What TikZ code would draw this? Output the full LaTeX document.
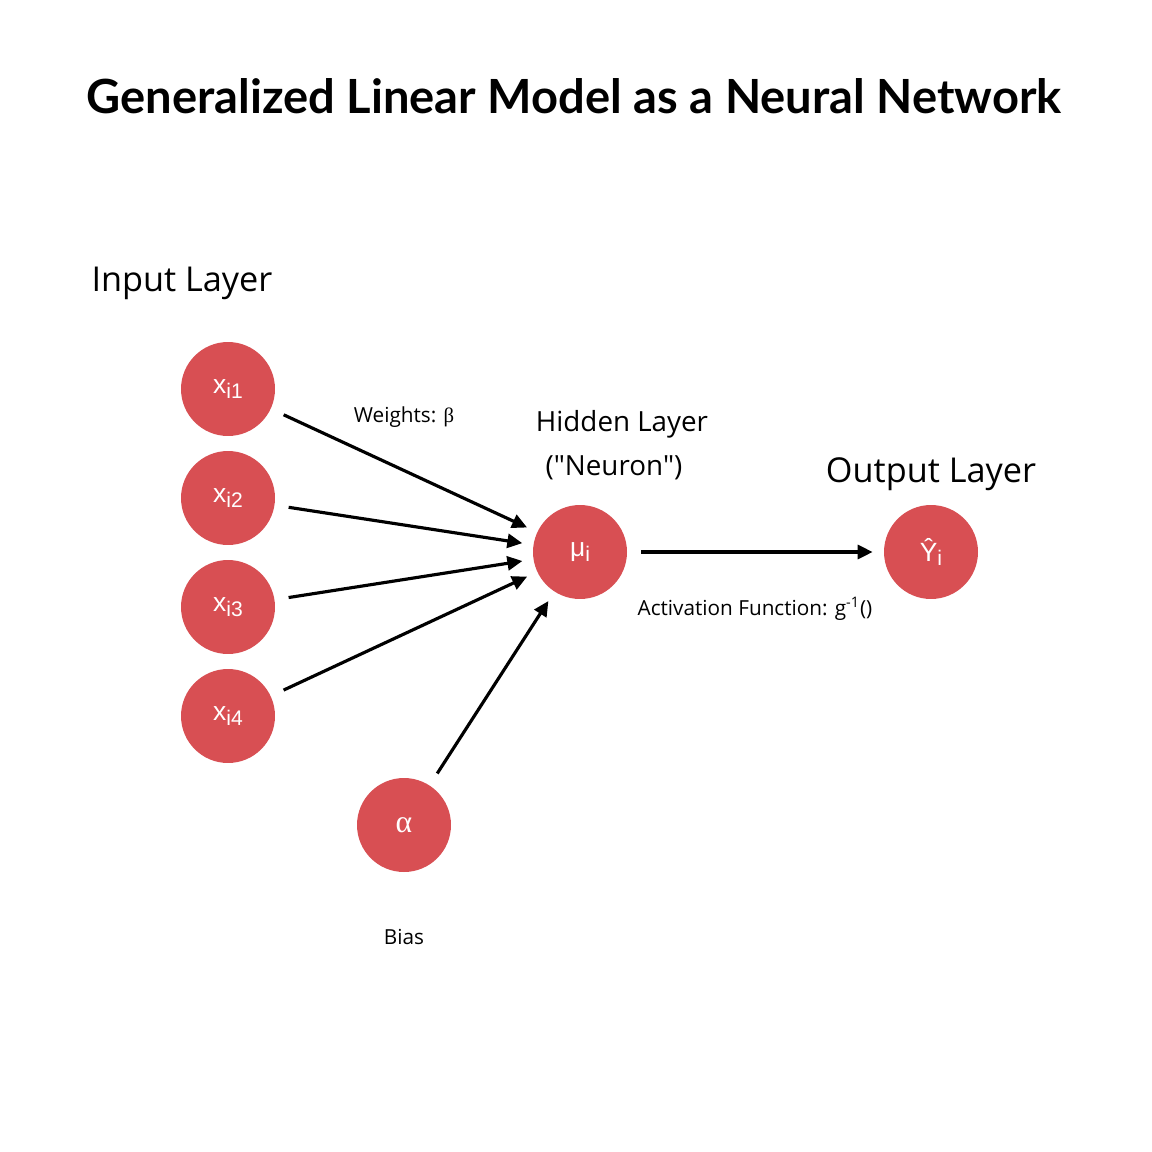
\documentclass[tikz,border=0pt]{standalone}
\usepackage{fontspec}
\usepackage{tikz}
\usetikzlibrary{arrows.meta}
\setmainfont{Open Sans}
\newfontfamily\titlefont{Lato}
\newfontfamily\circfont{Liberation Sans}
\newfontfamily\greekfont{Liberation Serif}
\definecolor{neuronred}{HTML}{D84F53}
\newcommand{\lowsub}[1]{\raisebox{-0.35ex}{\fontsize{12pt}{12pt}\selectfont #1}}

\begin{document}
\begin{tikzpicture}[
		x=0.02cm, y=-0.02cm,
		every node/.style={inner sep=0pt},
		neuron/.style={circle, fill=neuronred, minimum size=1.88cm, text=white,
			font=\circfont\fontsize{15pt}{15pt}\selectfont},
		layer/.style={font=\fontsize{19.5pt}{22pt}\selectfont},
		sublayer/.style={font=\fontsize{15.8pt}{18pt}\selectfont},
		note/.style={font=\fontsize{11.8pt}{13pt}\selectfont},
		arr/.style={line width=1.8pt, -{Triangle[length=0.3cm, width=0.28cm]},
			shorten <=0.28cm, shorten >=0.22cm}
	]
  \fill[white] (0,0) rectangle (1152,1152);
  \node (title) [font=\titlefont\bfseries\fontsize{26.8pt}{30pt}\selectfont] at (574,96) {Generalized Linear Model as a Neural Network};

  % input layer
  \node (x_1) [neuron] at (228,389) {x\lowsub{i1}};
  \node (x_2) [neuron] at (228,498) {x\lowsub{i2}};
  \node (x_3) [neuron] at (228,607) {x\lowsub{i3}};
  \node (x_4) [neuron] at (228,716) {x\lowsub{i4}};
  \node (alpha) [neuron] at (404,825) {{\greekfont\fontsize{18pt}{18pt}\selectfont α}};
  \node (mu) [neuron] at (580,552) {μ\lowsub{i}};
  \node (y_hat) [neuron] at (931,552) {Ŷ\lowsub{i}};

  % labels
  \node (input_label) [layer] at (182,283) {Input Layer};
  \node (hidden_label) [sublayer] at (622,424) {Hidden Layer};
  \node (neuron_label) [sublayer] at (614,468) {(\textquotedbl Neuron\textquotedbl)};
  \node (output_label) [layer] at (931,474) {Output Layer};
  \node (weights_label) [note] at (404,417) {Weights: {\greekfont β}};
  \node (act_label) [note] at (755,609) {Activation Function: g\textsuperscript{-1}()};
  \node (bias_label) [note] at (404,937) {Bias};

  \foreach \i in {1,...,4}
    \draw[arr] (x_\i) -- (mu);
  \draw[arr] (alpha) -- (mu);
  \draw[arr] (mu) -- (y_hat);
\end{tikzpicture}
\end{document}
